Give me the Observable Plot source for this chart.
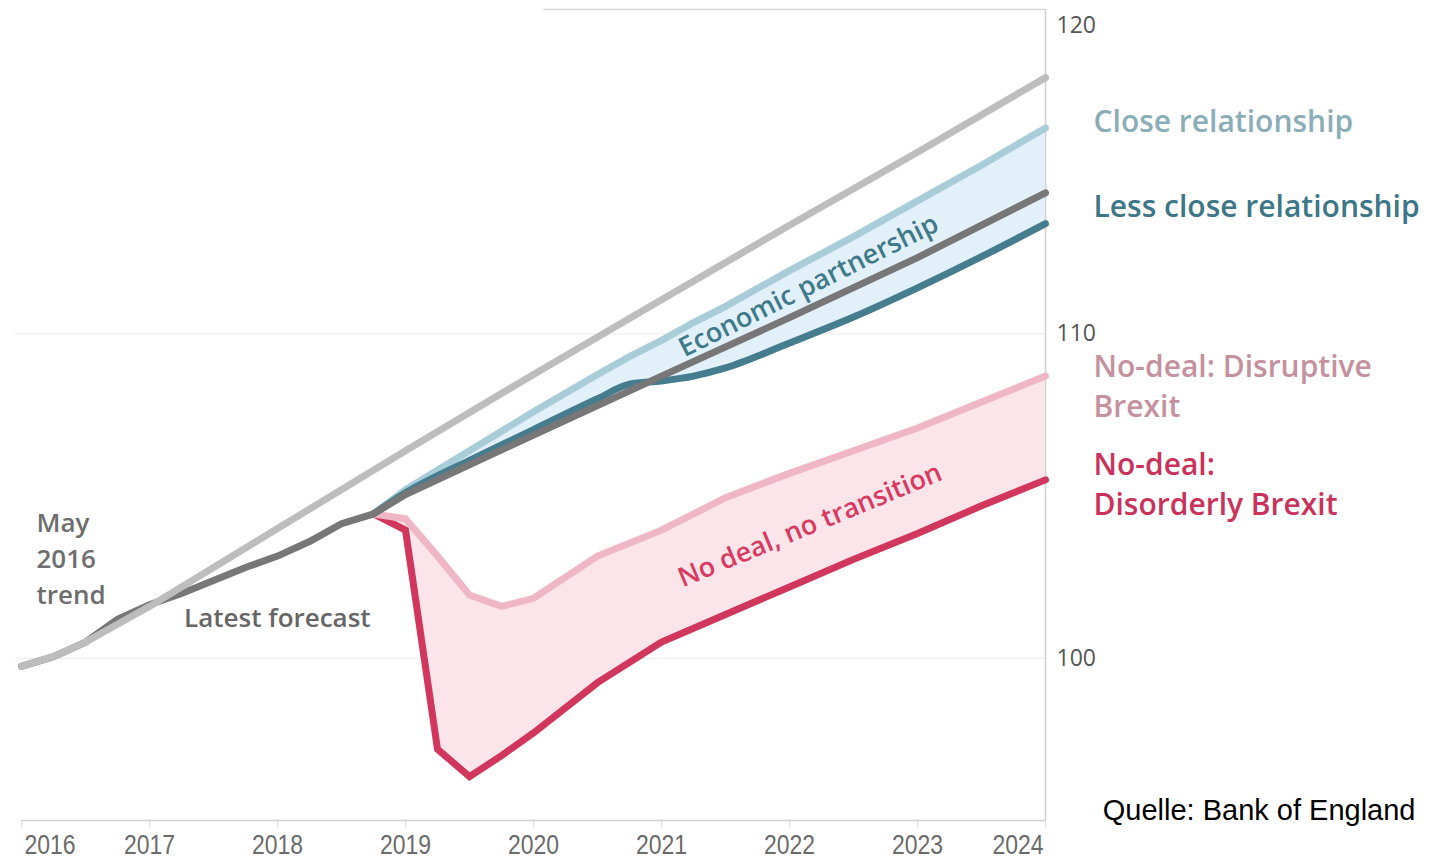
<!DOCTYPE html>
<html>
<head>
<meta charset="utf-8">
<script src="https://cdn.jsdelivr.net/npm/d3@7"></script>
<script src="https://cdn.jsdelivr.net/npm/@observablehq/plot@0.6"></script>
<style>
  html, body { margin: 0; padding: 0; background: #ffffff; }
  #chart svg { display: block; }
</style>
</head>
<body>
<div id="chart"></div>
<script>
// GDP paths, index (May 2016 = 100)
const trendYears = [2016, 2016.25, 2016.5, 2016.75, 2017, 2018, 2019, 2020, 2021, 2022, 2023, 2024];
const trendValues = [99.75, 100.05, 100.5, 101.05, 101.6, 104.0, 106.4, 108.75, 111.05, 113.35, 115.6, 117.9];

const forecastYears = [2016, 2016.25, 2016.5, 2016.75, 2017, 2017.25, 2017.5, 2017.75, 2018, 2018.25, 2018.5, 2018.75, 2019, 2020, 2021, 2022, 2023, 2024];
const forecastValues = [99.75, 100.05, 100.5, 101.2, 101.65, 102.0, 102.4, 102.8, 103.15, 103.6, 104.15, 104.45, 105.05, 106.88, 108.7, 110.5, 112.35, 114.35];

// Economic partnership scenarios
const partnershipYears = [2018.75, 2019, 2019.5, 2020, 2020.5, 2020.75, 2021, 2021.25, 2021.5, 2022, 2022.5, 2023, 2023.5, 2024];
const closeValues = [104.45, 105.2, 106.4, 107.6, 108.75, 109.3, 109.8, 110.35, 110.85, 111.95, 113.0, 114.1, 115.2, 116.35];
const lessCloseValues = [104.45, 105.1, 106.1, 107.05, 108.0, 108.45, 108.55, 108.7, 108.95, 109.72, 110.52, 111.42, 112.38, 113.4];

// No deal, no transition scenarios
const noDealYears = [2018.75, 2019, 2019.25, 2019.5, 2019.75, 2020, 2020.5, 2021, 2021.5, 2022, 2022.5, 2023, 2023.5, 2024];
const disruptiveValues = [104.45, 104.3, 103.15, 101.95, 101.6, 101.85, 103.15, 103.95, 104.95, 105.7, 106.4, 107.1, 107.9, 108.7];
const disorderlyValues = [104.45, 103.95, 97.2, 96.35, 97.0, 97.7, 99.25, 100.5, 101.35, 102.2, 103.05, 103.85, 104.7, 105.5];

// Axes
const tickYears = [2016, 2017, 2018, 2019, 2020, 2021, 2022, 2023, 2024];
const tickLabels = ["2016", "2017", "2018", "2019", "2020", "2021", "2022", "2023", "2024"];
const yTicks = [100, 110, 120];
const topGridStart = 2020.08;

const source = "Quelle: Bank of England";

const pairs = (xs, ys) => xs.map((x, i) => ({x, y: ys[i]}));
const trend = pairs(trendYears, trendValues);
const forecast = pairs(forecastYears, forecastValues);
const close = pairs(partnershipYears, closeValues);
const lessClose = pairs(partnershipYears, lessCloseValues);
const disruptive = pairs(noDealYears, disruptiveValues);
const disorderly = pairs(noDealYears, disorderlyValues);
const partnershipBand = partnershipYears.map((x, i) => ({x, y1: lessCloseValues[i], y2: closeValues[i]}));
const noDealBand = noDealYears.map((x, i) => ({x, y1: disorderlyValues[i], y2: disruptiveValues[i]}));
const xTicks = tickYears.map((x, i) => ({x, label: tickLabels[i]}));

const labelFont = "'Open Sans', Lato, sans-serif";
const yearFont = "'Liberation Sans', Arial, sans-serif";

const lineOpts = {x: "x", y: "y", strokeWidth: 7, strokeLinejoin: "miter", strokeMiterlimit: 3};

// Series name placed to the right of the series' final value
const endLabel = (series, text, fill, dy) =>
  Plot.text([series[series.length - 1]], {
    x: "x", y: "y", text: () => text, dx: 48, dy,
    textAnchor: "start", lineAnchor: "middle", lineHeight: 1.32,
    fill, fontSize: 30, fontWeight: 600, fontFamily: labelFont
  });

// Year labels sit just below the frame
const yearOpts = {
  x: "x", frameAnchor: "bottom", dy: 25, lineAnchor: "middle", text: "label",
  fill: "#6b6b6b", fontSize: 28, fontFamily: yearFont
};

const chart = Plot.plot({
  width: 1439,
  height: 858,
  marginLeft: 21,
  marginRight: 394,
  marginTop: 9,
  marginBottom: 38,
  x: {domain: [2016, 2024], axis: null},
  y: {domain: [95, 120], axis: null},
  style: {background: "#ffffff", fontFamily: labelFont, overflow: "visible"},
  marks: [
    // grid and frame
    Plot.ruleY(yTicks.slice(0, 2), {stroke: "#eeeeee", strokeWidth: 1.2, insetLeft: -6}),
    Plot.ruleY([yTicks[2]], {x1: topGridStart, x2: 2024, stroke: "#d8d8d8", strokeWidth: 1.5}),
    Plot.axisX({ticks: tickYears, tickSize: 7, tickFormat: () => "", label: null, stroke: "#dddddd"}),
    Plot.ruleY([95], {stroke: "#d0d0d0", strokeWidth: 1.5}),
    Plot.ruleX([2024], {stroke: "#d0d0d0", strokeWidth: 1.5}),

    // scenario bands
    Plot.areaY(partnershipBand, {x: "x", y1: "y1", y2: "y2", fill: "#e2f0fa", curve: "monotone-x"}),
    Plot.areaY(noDealBand, {x: "x", y1: "y1", y2: "y2", fill: "#fce5ea"}),

    // lines
    Plot.line(close, {...lineOpts, stroke: "#a9cdd8"}),
    Plot.line(lessClose, {...lineOpts, stroke: "#467d8e", curve: "monotone-x"}),
    Plot.line(disorderly, {...lineOpts, stroke: "#d1365d"}),
    Plot.line(disruptive, {...lineOpts, stroke: "#efb7c5"}),
    Plot.line(forecast, {...lineOpts, stroke: "#777777"}),
    Plot.line(trend, {...lineOpts, stroke: "#bdbdbd"}),

    // in-chart annotations
    Plot.text(["Economic partnership"], {
      x: 2022.15, y: 111.48, text: d => d, rotate: -26.5,
      fill: "#3f7a8a", fontSize: 27, fontWeight: 600, fontFamily: labelFont
    }),
    Plot.text(["No deal, no transition"], {
      x: 2022.16, y: 104.1, text: d => d, rotate: -22.5,
      fill: "#d93a62", fontSize: 27, fontWeight: 600, fontFamily: labelFont
    }),
    Plot.text(["May\n2016\ntrend"], {
      frameAnchor: "left", y: 103.02, dx: 15, dy: -4, text: d => d, textAnchor: "start",
      lineHeight: 1.385, fill: "#6e6e6e", fontSize: 26, fontWeight: 600, fontFamily: labelFont
    }),
    Plot.text(["Latest forecast"], {
      x: 2017.27, y: 101.23, text: d => d, textAnchor: "start",
      fill: "#666666", fontSize: 26, fontWeight: 600, fontFamily: labelFont
    }),

    // series names at the right
    endLabel(close, "Close relationship", "#8aadb7", -9),
    endLabel(lessClose, "Less close relationship", "#3d7686", -19),
    endLabel(disruptive, "No-deal: Disruptive\nBrexit", "#c5919e", 8.5),
    endLabel(disorderly, "No-deal:\nDisorderly Brexit", "#c9325a", 2.5),

    // y tick labels on the right
    Plot.text(yTicks.slice(0, 2), {
      frameAnchor: "right", y: d => d, text: d => String(d), dx: 11, textAnchor: "start",
      fill: "#555555", fontSize: 23, fontFamily: labelFont
    }),
    Plot.text([yTicks[2]], {
      frameAnchor: "right", y: d => d, text: d => String(d), dx: 11, dy: 16, textAnchor: "start",
      fill: "#555555", fontSize: 23, fontFamily: labelFont
    }),

    // x tick labels: the end years are kept inside the frame
    Plot.text(xTicks.slice(1, -1), yearOpts),
    Plot.text(xTicks.slice(0, 1), {...yearOpts, dx: 3, textAnchor: "start"}),
    Plot.text(xTicks.slice(-1), {...yearOpts, dx: -2, textAnchor: "end"}),

    // source
    Plot.text([source], {
      frameAnchor: "bottom-right", dx: 370, dy: -10, lineAnchor: "middle", text: d => d, textAnchor: "end",
      fill: "#000000", fontSize: 29, fontFamily: "'Liberation Sans', Arial, sans-serif"
    })
  ]
});

document.getElementById("chart").append(chart);

// Year labels use a narrow face: squeeze each one to 82% of its natural width
const yearSet = new Set(tickLabels);
d3.select(chart).selectAll("text").each(function () {
  if (!yearSet.has(this.textContent)) return;
  const w = this.getComputedTextLength();
  this.setAttribute("textLength", (w * 0.82).toFixed(1));
  this.setAttribute("lengthAdjust", "spacingAndGlyphs");
});
</script>
</body>
</html>
